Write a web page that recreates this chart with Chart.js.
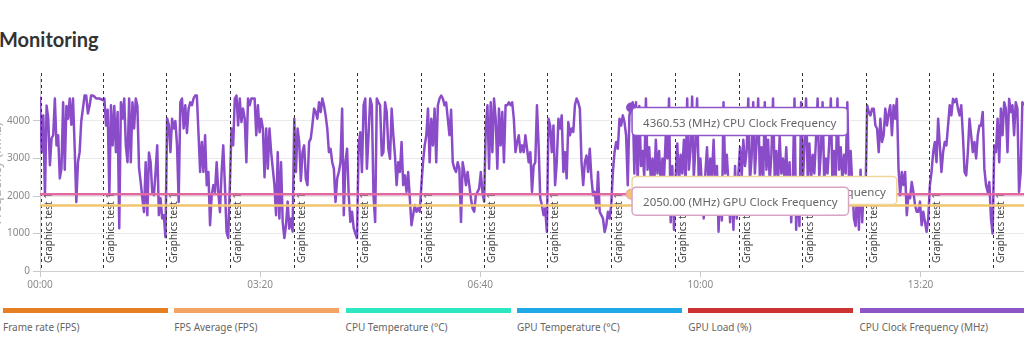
<!DOCTYPE html>
<html><head><meta charset="utf-8">
<script src="https://cdn.jsdelivr.net/npm/chart.js@4.4.1/dist/chart.umd.min.js"></script>
<style>
html,body{margin:0;padding:0;background:#fff;}
body{width:1024px;height:363px;overflow:hidden;position:relative;font-family:"Noto Sans",sans-serif;}
#title{position:absolute;left:-1px;top:27px;font-family:Lato,sans-serif;font-weight:700;font-size:20px;color:#333;line-height:24px;white-space:nowrap;}
#wrap{position:absolute;left:-11px;top:66px;width:1035px;height:235px;}
#legend{position:absolute;left:3px;top:308px;width:1200px;height:40px;}
.item{position:absolute;top:0;width:165px;}
.bar{height:5px;}
.lab{font-size:10px;color:#666;margin-top:7px;white-space:nowrap;}
</style></head>
<body>
<div id="title">Monitoring</div>
<div id="wrap"><canvas id="c"></canvas></div>
<div id="legend"></div>
<script>
// ---- data ----
const SAMPLE_SECONDS = 1.5;
const cpuClockMHz = [
 4650,3170,4150,2020,4410,4060,2820,3540,3620,4600,3350,3620,2470,2730,4500,2700,4400,4060,4600,3900,4600,3300,1840,2900,3170,4000,4330,4680,4680,4200,4400,4680,4680,4650,4600,4600,4600,4580,
 4560,4600,3880,4300,2020,4420,3350,4400,3170,4240,1140,4500,4060,4600,3350,2900,4600,2900,4500,3800,4600,4400,2740,2370,1940,1570,2900,1490,3160,2900,2100,2020,2640,3350,1490,1940,1400,1490,
 900,4070,3900,3170,4060,3800,4000,3350,1840,4500,4600,3800,4420,3680,4330,4500,4420,4600,4680,4680,3680,2640,3440,2640,3620,2290,2640,1220,2020,2290,2110,2900,2110,1570,2640,3350,2290,1040,
 880,2290,3800,3350,4600,4680,3880,4600,3970,4330,4060,2900,4600,4420,4600,4600,4600,3620,4420,3700,4060,3800,2500,3800,2730,3800,3170,2730,2290,1490,3170,1400,2900,1310,880,1220,1850,1130,
 1400,1050,4060,2640,3800,3440,2400,3170,3350,2470,2290,3440,3530,3900,4330,4240,4060,4500,4240,4600,4420,4150,3800,3170,3260,2900,2730,1840,2470,2640,2900,4330,1490,2900,3260,2020,1310,1580,
 1140,1000,880,3350,3700,2640,4420,4600,2730,3620,4600,4420,2020,1310,4600,4500,4420,3080,3170,4500,4240,3260,2990,4330,3620,3080,2290,2900,2640,3440,2290,2550,2110,2640,1940,1220,1490,1760,
 1580,1670,1580,2290,2900,3350,3620,4330,2900,4060,3350,4330,2900,4420,4600,4680,4600,4420,4500,4060,3620,4300,2900,2730,2640,2900,2730,1310,2900,2640,2290,2640,2290,1940,1670,1580,2020,2110,
 2200,2640,2100,1850,3800,4420,2730,4500,3170,4600,4060,2730,4330,3350,4240,2900,4420,4420,4500,4420,4500,4060,3170,3440,3620,3170,3350,3170,3620,3260,2900,3170,2110,2810,2900,4420,3350,1940,
 1760,1490,1670,1040,4060,3880,3170,3880,2290,2900,4060,3800,4150,2640,3170,2470,3970,3620,3800,3710,4420,4600,4500,4330,2900,2290,2900,3080,2640,3260,2470,2020,2110,1670,2640,1580,1490,1400,
 1040,1220,1580,1400,1760,2640,3170,3440,3260,4060,3880,4150,3970,3620,2290,4150,4360.53,4500,2600,4500,2300,4400,2800,3200,2500,4600,2700,3300,2400,3000,2200,3500,2600,3200,2300,3000,2500,3600,
 3000,4600,1300,2800,1100,2500,3400,2300,3100,2600,3500,2300,4600,2700,3200,4650,2500,3300,4600,2400,3000,2200,1400,2600,3300,2300,3000,2500,3500,2200,2800,1050,2400,1350,4500,2600,3100,2300,
 1300,2500,1100,2800,1400,2600,3300,2500,3500,2800,3200,4600,2400,3000,4500,2600,3400,4600,2500,3300,2300,4500,2700,3500,2400,3100,4600,2500,3200,2300,3600,2600,3000,2400,3300,2200,2900,1300,
 2500,4600,1100,2400,1200,4500,2300,3300,4600,2500,3400,2400,3100,2600,3500,4600,2500,3200,4500,2400,3000,2600,3400,4600,2300,3200,2500,4600,2700,3300,2400,3100,2600,4500,2400,3200,2300,1400,
 1200,2300,1100,2700,1300,2400,2000,4420,4240,4150,4330,4330,3880,3800,3170,4060,3440,3620,4330,3880,4200,4420,3620,4420,4060,4590,2730,2020,2640,2290,2640,1490,2020,1940,2375,2110,1760,1580,
 1580,1850,1220,1580,1310,1045,1400,2290,2640,3170,3440,2900,4060,3350,2640,3170,3440,3350,3880,4420,4150,4590,4500,4590,4330,4150,4420,3620,2640,2550,3170,4060,3620,3170,3440,3000,3620,3880,
 3880,4240,2730,2290,2110,2375,1400,1000,3350,3170,4060,2900,4330,3620,4500,4330,3170,4590,4240,4420,3620,4500,4330,2110,2640,4500,4420
];
const gpuClockMHz = [2050.00, 2050.00];      // constant over the run (start, end)
const gpuMemClockMHz = [1750.00, 1750.00];   // constant over the run (start, end)
const testMarksSec = [1, 57, 114.5, 172.5, 230.5, 288, 346, 403.5, 461, 519, 576.5, 635, 692.5, 750, 807.5, 866];
const testLabel = "Graphics test 1";
const xTickValues = [0, 200, 400, 600, 800];
const yTickValues = [0, 1000, 2000, 3000, 4000];
const yAxisMax = 5200;
const hoverTimeSec = 537;
const legendLabels = ["Frame rate (FPS)","FPS Average (FPS)","CPU Temperature (°C)","GPU Temperature (°C)","GPU Load (%)","CPU Clock Frequency (MHz)"];
const legendColors = ["#e67e22","#f2a562","#2ee6c0","#1ea9e6","#cc3434","#8e55c8"];

// ---- derived ----
const endSec = (cpuClockMHz.length - 1) * SAMPLE_SECONDS;
const cpuPoints = cpuClockMHz.map((v, i) => ({x: i * SAMPLE_SECONDS, y: v}));
const gpuPoints = [{x: 0, y: gpuClockMHz[0]}, {x: endSec, y: gpuClockMHz[1]}];
const memPoints = [{x: 0, y: gpuMemClockMHz[0]}, {x: endSec, y: gpuMemClockMHz[1]}];
const hoverIdx = Math.round(hoverTimeSec / SAMPLE_SECONDS);

const COL_CPU = '#8a4cc8', COL_GPU = '#e0699f', COL_MEM = '#f1c46f';
const FONT = '"Noto Sans", sans-serif';

// legend
const lg = document.getElementById('legend');
legendLabels.forEach((t, i) => {
  const d = document.createElement('div');
  d.className = 'item'; d.style.left = (i * 171.3) + 'px';
  d.innerHTML = '<div class="bar" style="background:' + legendColors[i] + '"></div><div class="lab"></div>';
  d.querySelector('.lab').textContent = t;
  lg.appendChild(d);
});

function mmss(v){ const m = Math.floor(v/60), s = Math.round(v%60); return String(m).padStart(2,'0')+':'+String(s).padStart(2,'0'); }

function roundRect(ctx, x, y, w, h, r){
  ctx.beginPath();
  ctx.moveTo(x+r, y); ctx.lineTo(x+w-r, y); ctx.arcTo(x+w, y, x+w, y+r, r);
  ctx.lineTo(x+w, y+h-r); ctx.arcTo(x+w, y+h, x+w-r, y+h, r);
  ctx.lineTo(x+r, y+h); ctx.arcTo(x, y+h, x, y+h-r, r);
  ctx.lineTo(x, y+r); ctx.arcTo(x, y, x+r, y, r); ctx.closePath();
}

const overlay = {
  id: 'overlay',
  afterDatasetDraw(chart, args){
    if (args.index !== 2) return; // after CPU line, before the constant lines
    const {ctx, chartArea: a, scales: {x}} = chart;
    ctx.save();
    testMarksSec.forEach(t => {
      const px = Math.round(x.getPixelForValue(t)) + 0.5;
      ctx.strokeStyle = '#333'; ctx.lineWidth = 1; ctx.setLineDash([3, 3]);
      ctx.beginPath(); ctx.moveTo(px, a.top - 3); ctx.lineTo(px, a.bottom); ctx.stroke();
      ctx.setLineDash([]);
      ctx.save();
      ctx.translate(px + 8, a.bottom - 8); ctx.rotate(-Math.PI / 2);
      ctx.font = '10px ' + FONT; ctx.fillStyle = '#444';
      ctx.textBaseline = 'middle'; ctx.textAlign = 'left';
      ctx.fillText(testLabel, 0, 0);
      ctx.restore();
    });
    ctx.restore();
  },
  afterDraw(chart){
    const {ctx, scales: {x, y}} = chart;
    const px = x.getPixelForValue(hoverTimeSec);
    const boxes = [
      {v: gpuMemClockMHz[0], name: 'GPU Memory Clock Frequency', border: '#efd59a', dy: -29},
      {v: gpuClockMHz[0], name: 'GPU Clock Frequency', border: '#d9a3c6', dy: -7},
      {v: cpuClockMHz[hoverIdx], name: 'CPU Clock Frequency', border: '#8e55c8', dy: 0}
    ];
    ctx.save();
    ctx.fillStyle = COL_CPU;
    ctx.beginPath(); ctx.arc(px, y.getPixelForValue(cpuClockMHz[hoverIdx]), 5, 0, Math.PI*2); ctx.fill();
    ctx.fillStyle = '#f3c372'; ctx.strokeStyle = '#e59ab8'; ctx.lineWidth = 1;
    ctx.beginPath(); ctx.arc(px, y.getPixelForValue(gpuClockMHz[0]), 5, 0, Math.PI*2); ctx.fill(); ctx.stroke();
    ctx.font = '11.5px ' + FONT;
    boxes.forEach(b => {
      const py = y.getPixelForValue(b.v);
      const text = b.v.toFixed(2) + ' (MHz) ' + b.name;
      const w = ctx.measureText(text).width + 22, h = 28;
      const bx = px + 1, by = py + b.dy;
      roundRect(ctx, bx, by, w, h, 4);
      ctx.fillStyle = '#fff'; ctx.fill();
      ctx.strokeStyle = b.border; ctx.lineWidth = 1.5; ctx.stroke();
      ctx.fillStyle = '#666'; ctx.textBaseline = 'alphabetic'; ctx.textAlign = 'left';
      ctx.fillText(text, bx + 11, by + h / 2 + 5.3);
    });
    ctx.restore();
  }
};

new Chart(document.getElementById('c'), {
  type: 'line',
  data: {
    datasets: [
      {label: 'GPU Clock Frequency', data: gpuPoints, borderColor: COL_GPU, borderWidth: 2.5, pointRadius: 0},
      {label: 'GPU Memory Clock Frequency', data: memPoints, borderColor: COL_MEM, borderWidth: 2.5, pointRadius: 0},
      {label: 'CPU Clock Frequency', data: cpuPoints, borderColor: COL_CPU, borderWidth: 2.5, pointRadius: 0, tension: 0, borderJoinStyle: 'round'}
    ]
  },
  options: {
    responsive: true, maintainAspectRatio: false, animation: false,
    layout: {padding: {top: 10, right: 0, left: 0, bottom: 0}},
    plugins: {legend: {display: false}, tooltip: {enabled: false}},
    events: [],
    scales: {
      x: {
        type: 'linear', min: 0, max: endSec,
        afterBuildTicks(s){ s.ticks = xTickValues.map(v => ({value: v})); },
        ticks: {callback: v => mmss(v), font: {size: 10, family: FONT}, color: '#8a8a8a', padding: 2, maxRotation: 0, autoSkip: false},
        grid: {drawOnChartArea: false, tickLength: 6, tickColor: '#c8c8c8'},
        border: {color: '#d0d0d0'},
        afterFit(s){ s.height = 30; }
      },
      y: {
        min: 0, max: yAxisMax,
        afterBuildTicks(s){ s.ticks = yTickValues.map(v => ({value: v})); },
        ticks: {autoSkip: false, callback: v => String(Math.round(v)), font: {size: 10, family: FONT}, color: '#8a8a8a', padding: 3},
        grid: {color: '#e9e9e9', tickLength: 7, tickColor: '#c8c8c8'},
        border: {color: '#d0d0d0'},
        title: {display: true, text: 'Frequency (MHz)', color: '#aaa', font: {size: 13, family: FONT}, padding: 0},
        afterFit(s){ s.width = 51; }
      }
    }
  },
  plugins: [overlay]
});
</script>
</body></html>
